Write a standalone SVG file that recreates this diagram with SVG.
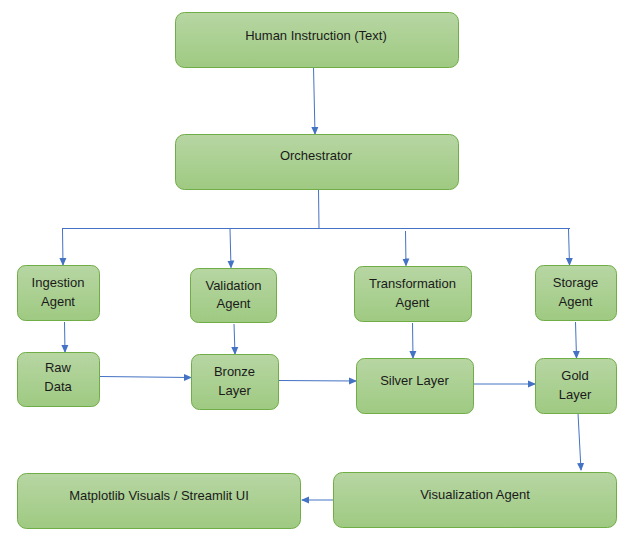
<svg xmlns="http://www.w3.org/2000/svg" width="637" height="547" viewBox="0 0 637 547">
<defs>
<linearGradient id="g" x1="0" y1="0" x2="0" y2="1">
<stop offset="0" stop-color="#b7d6a3"/>
<stop offset="1" stop-color="#9fca82"/>
</linearGradient>
<marker id="ah" markerWidth="8" markerHeight="8" refX="7" refY="4" orient="auto" markerUnits="userSpaceOnUse">
<path d="M0,0.5 L8,4 L0,7.5 Z" fill="#4472c4"/>
</marker>
<style>
.box{fill:url(#g);stroke:#70ad47;stroke-width:1}
.t{font-family:"Liberation Sans",Arial,sans-serif;font-size:13px;fill:#1a1a1a;text-anchor:middle}
.c{stroke:#4472c4;stroke-width:1;fill:none}
.a{stroke:#4472c4;stroke-width:1;fill:none;marker-end:url(#ah)}
</style>
</defs>
<rect width="637" height="547" fill="#fff"/>
<g id="connectors">
<line class="a" x1="313.5" y1="67" x2="315" y2="134"/>
<polyline class="c" points="318.5,189 319,228.5"/>
<line class="c" x1="62" y1="228.5" x2="570" y2="228.5"/>
<line class="a" x1="62.5" y1="229" x2="63" y2="265"/>
<line class="a" x1="230" y1="229" x2="231" y2="267.5"/>
<line class="a" x1="405.5" y1="231" x2="406" y2="265.5"/>
<line class="a" x1="568.5" y1="229" x2="569.5" y2="265"/>
<line class="a" x1="64.5" y1="322" x2="65" y2="352"/>
<line class="a" x1="234" y1="324" x2="235" y2="354"/>
<line class="a" x1="412.5" y1="323" x2="413" y2="358"/>
<line class="a" x1="575.5" y1="322" x2="576.5" y2="358"/>
<line class="a" x1="100" y1="376.5" x2="191" y2="377.5"/>
<line class="a" x1="279" y1="380.5" x2="356" y2="381"/>
<line class="a" x1="474" y1="384" x2="535" y2="384"/>
<line class="a" x1="578" y1="413" x2="581" y2="470"/>
<line class="a" x1="333" y1="500" x2="302" y2="500"/>
</g>
<g id="human"><rect class="box" x="175.5" y="12.5" width="283" height="55" rx="9"/><text class="t" x="316" y="39.5">Human Instruction (Text)</text></g>
<g id="orchestrator"><rect class="box" x="175.5" y="134.5" width="283" height="55" rx="9"/><text class="t" x="316" y="160">Orchestrator</text></g>
<g id="ingestion"><rect class="box" x="17.5" y="265.5" width="82" height="55" rx="8"/><text class="t" x="58" y="287">Ingestion</text><text class="t" x="58" y="306">Agent</text></g>
<g id="validation"><rect class="box" x="190.5" y="268.5" width="86" height="54" rx="8"/><text class="t" x="233.5" y="289.5">Validation</text><text class="t" x="233.5" y="308">Agent</text></g>
<g id="transformation"><rect class="box" x="354.5" y="266.5" width="117" height="55" rx="8"/><text class="t" x="412.5" y="288">Transformation</text><text class="t" x="412.5" y="306.5">Agent</text></g>
<g id="storage"><rect class="box" x="535.5" y="265.5" width="81" height="55" rx="8"/><text class="t" x="575.5" y="286.5">Storage</text><text class="t" x="575.5" y="305.5">Agent</text></g>
<g id="raw"><rect class="box" x="17.5" y="352.5" width="82" height="54" rx="8"/><text class="t" x="58" y="372">Raw</text><text class="t" x="58" y="391">Data</text></g>
<g id="bronze"><rect class="box" x="191.5" y="354.5" width="87" height="55" rx="8"/><text class="t" x="234.5" y="376">Bronze</text><text class="t" x="234.5" y="395">Layer</text></g>
<g id="silver"><rect class="box" x="356.5" y="358.5" width="117" height="55" rx="8"/><text class="t" x="414.5" y="385">Silver Layer</text></g>
<g id="gold"><rect class="box" x="535.5" y="358.5" width="81" height="55" rx="8"/><text class="t" x="575" y="379.5">Gold</text><text class="t" x="575" y="398.5">Layer</text></g>
<g id="visualization"><rect class="box" x="333.5" y="472.5" width="283" height="55" rx="9"/><text class="t" x="475" y="498.5">Visualization Agent</text></g>
<g id="matplotlib"><rect class="box" x="17.5" y="473.5" width="283" height="55" rx="9"/><text class="t" x="159" y="500">Matplotlib Visuals / Streamlit UI</text></g>
</svg>
